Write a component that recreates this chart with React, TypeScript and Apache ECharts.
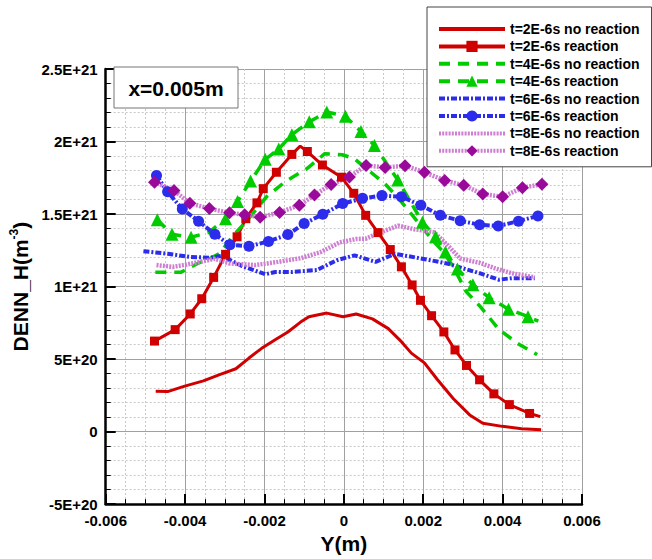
import React, { useEffect, useRef } from "react";
import * as echarts from "echarts";

// X in units of 1E-3 m, values in units of 1E+20 m^-3
const red2NoX = [-4.74, -4.44, -4.03, -3.54, -3.13, -2.72, -2.39, -2.07, -1.74, -1.41, -1.09, -0.88, -0.43, -0.02, 0.31, 0.72, 1.12, 1.45, 1.70, 2.03, 2.35, 2.76, 3.17, 3.50, 3.99, 4.48, 4.97];
const red2NoY = [2.78, 2.76, 3.12, 3.50, 3.93, 4.33, 5.07, 5.74, 6.31, 6.87, 7.55, 7.92, 8.17, 7.92, 8.11, 7.77, 7.10, 6.20, 5.41, 4.74, 3.61, 2.26, 1.15, 0.58, 0.36, 0.20, 0.13];

const red2RxX = [-4.77, -4.25, -3.87, -3.58, -3.28, -2.98, -2.69, -2.47, -2.19, -2.03, -1.70, -1.31, -1.10, -0.92, -0.54, -0.06, 0.25, 0.55, 0.86, 1.17, 1.45, 1.72, 1.93, 2.21, 2.52, 2.80, 3.09, 3.42, 3.78, 4.17, 4.68, 4.95];
const red2RxY = [6.24, 7.03, 8.11, 9.16, 10.63, 12.22, 13.43, 14.68, 15.77, 16.75, 17.88, 19.11, 19.68, 19.31, 18.38, 17.54, 16.43, 14.91, 13.72, 12.55, 11.36, 10.11, 9.05, 7.99, 6.87, 5.63, 4.56, 3.57, 2.60, 1.86, 1.25, 1.03];
const red2RxPlain = [12, 31];

const green4NoX = [-4.75, -4.11, -3.67, -3.37, -3.13, -2.79, -2.39, -1.95, -1.46, -0.92, -0.48, -0.04, 0.26, 0.68, 1.04, 1.34, 1.63, 1.98, 2.27, 2.52, 2.76, 3.08, 3.45, 3.91, 4.41, 4.87];
const green4NoY = [10.98, 10.98, 11.61, 11.93, 12.29, 13.50, 14.71, 16.19, 17.27, 18.15, 19.16, 19.09, 18.82, 17.88, 17.07, 16.19, 15.25, 14.04, 13.09, 12.35, 11.34, 9.66, 8.58, 7.03, 6.02, 5.31];

const green4RxX = [-4.70, -4.33, -3.85, -3.40, -2.98, -2.68, -2.35, -1.98, -1.64, -1.31, -0.87, -0.43, 0.04, 0.43, 0.77, 1.36, 1.98, 2.31, 2.56, 2.86, 3.25, 3.66, 4.15, 4.64, 4.90];
const green4RxY = [14.61, 13.60, 13.40, 13.73, 14.68, 15.86, 17.27, 18.77, 19.49, 20.47, 21.36, 22.04, 21.75, 20.69, 19.73, 17.34, 14.44, 13.43, 12.39, 11.21, 10.13, 9.23, 8.44, 7.92, 7.61];
const green4RxPlain = [3, 24];

const blue6NoX = [-5.05, -4.44, -3.87, -3.37, -3.08, -2.93, -2.56, -1.98, -1.73, -1.33, -0.68, -0.18, 0.27, 0.80, 1.29, 2.19, 2.60, 3.01, 3.42, 3.91, 4.23, 4.81];
const blue6NoY = [12.44, 12.26, 12.04, 11.99, 12.12, 11.91, 11.41, 10.85, 11.00, 11.00, 11.14, 11.81, 12.15, 11.70, 12.26, 11.81, 11.59, 11.25, 10.92, 10.47, 10.58, 10.58];

const blue6RxX = [-4.72, -4.44, -4.07, -3.66, -3.25, -2.87, -2.39, -1.90, -1.41, -1.00, -0.53, -0.03, 0.47, 0.96, 1.45, 1.94, 2.43, 2.93, 3.42, 3.89, 4.40, 4.89];
const blue6RxY = [17.65, 16.53, 15.34, 14.51, 13.60, 12.88, 12.78, 13.11, 13.59, 14.34, 14.98, 15.72, 16.08, 16.27, 16.19, 15.60, 14.91, 14.54, 14.26, 14.17, 14.51, 14.87];

const pink8NoX = [-4.72, -4.31, -4.03, -3.54, -3.25, -2.88, -2.23, -1.66, -1.09, -0.59, -0.10, 0.31, 0.55, 0.96, 1.37, 1.78, 2.27, 2.60, 2.93, 3.42, 3.82, 4.23, 4.81];
const pink8NoY = [11.48, 11.36, 11.48, 11.75, 11.91, 11.59, 11.48, 11.70, 11.95, 12.37, 13.05, 13.28, 13.30, 13.77, 14.20, 13.95, 13.75, 12.89, 11.93, 11.64, 11.25, 10.92, 10.63];

const pink8RxX = [-4.77, -4.28, -3.88, -3.39, -2.88, -2.50, -2.11, -1.62, -1.12, -0.74, -0.32, 0.14, 0.56, 1.04, 1.54, 2.03, 2.54, 3.02, 3.50, 4.00, 4.50, 4.99];
const pink8RxY = [17.20, 16.62, 15.74, 15.38, 15.08, 14.95, 14.78, 15.11, 15.61, 16.31, 17.04, 17.56, 18.35, 18.21, 18.33, 17.88, 17.32, 16.98, 16.38, 16.19, 16.82, 17.05];

const seriesNames = [
  "t=2E-6s no reaction",
  "t=2E-6s reaction",
  "t=4E-6s no reaction",
  "t=4E-6s reaction",
  "t=6E-6s no reaction",
  "t=6E-6s reaction",
  "t=8E-6s no reaction",
  "t=8E-6s reaction",
];

const xTickMin = -6;
const xTickMax = 6;
const xTickStep = 2;
const yTickMin = -5;
const yTickMax = 25;
const yTickStep = 5;

const FONT = 'Arial, "Liberation Sans", Helvetica, sans-serif';

function pts(xs: number[], ys: number[], plain: number[] = []) {
  return xs.map((x, i) =>
    plain.indexOf(i) >= 0 ? { value: [x, ys[i]], symbol: "none" } : [x, ys[i]]
  );
}

const RED = "#d10000";
const GREEN = "#00cc00";
const BLUE = "#2c2cec";
const PINK = "#cf7fd2";
const PURPLE = "#9a0a9a";

export default function App() {
  const ref = useRef<HTMLDivElement>(null);
  useEffect(() => {
    document.body.style.margin = "0";
    const chart = echarts.init(ref.current as HTMLDivElement, null, { renderer: "svg" });
    const gridLine = { show: true, lineStyle: { color: "#a0a0a0", width: 1 } };
    const minorLine = { show: true, lineStyle: { color: "#c8c8c8", width: 1, type: [2, 2] } };
    const labelStyle = { color: "#000", fontFamily: FONT, fontWeight: "bold", fontSize: 15 };
    const legendData = seriesNames.map((name, i) =>
      i % 2 === 0
        ? { name, itemStyle: { color: "rgba(0,0,0,0)", opacity: 0, borderWidth: 0 } }
        : { name }
    );
    const option: any = {
      animation: false,
      backgroundColor: "#fff",
      grid: { left: 93, right: 70, top: 69, bottom: 46, containLabel: false },
      xAxis: {
        type: "value",
        min: xTickMin,
        max: xTickMax,
        interval: xTickStep,
        name: "Y(m)",
        nameLocation: "middle",
        nameGap: 22,
        nameTextStyle: { color: "#000", fontFamily: FONT, fontWeight: "bold", fontSize: 21 },
        axisLine: { onZero: false, lineStyle: { color: "#000", width: 2.5 } },
        axisTick: { inside: true, length: 10, lineStyle: { color: "#000", width: 2 } },
        minorTick: { show: true, splitNumber: 4, length: 5, lineStyle: { color: "#000", width: 1 } },
        splitLine: gridLine,
        minorSplitLine: minorLine,
        axisLabel: {
          ...labelStyle,
          margin: 9,
          formatter: (v: number) => (v === 0 ? "0" : String(+(v / 1000).toFixed(4))),
        },
      },
      yAxis: {
        type: "value",
        min: yTickMin,
        max: yTickMax,
        interval: yTickStep,
        name: "{a|DENN_H(m}{b|-3}{a|)}",
        nameLocation: "middle",
        nameGap: 60,
        nameTextStyle: {
          rich: {
            a: { color: "#000", fontFamily: FONT, fontWeight: "bold", fontSize: 21 },
            b: { color: "#000", fontFamily: FONT, fontWeight: "bold", fontSize: 12, padding: [0, 0, 12, 0] },
          },
        },
        axisLine: { onZero: false, lineStyle: { color: "#000", width: 2.5 } },
        axisTick: { inside: true, length: 10, lineStyle: { color: "#000", width: 2 } },
        minorTick: { show: true, splitNumber: 5, length: 5, lineStyle: { color: "#000", width: 1 } },
        splitLine: gridLine,
        minorSplitLine: minorLine,
        axisLabel: {
          ...labelStyle,
          margin: 8,
          formatter: (v: number) =>
            v === 0 ? "0" : (v * 1e20).toExponential().toUpperCase(),
        },
      },
      legend: {
        orient: "vertical",
        left: 427,
        top: 7,
        padding: [15, 12, 9, 10],
        itemWidth: 66,
        itemHeight: 14,
        itemGap: 3.4,
        itemTextGap: 8,
        backgroundColor: "#fff",
        borderColor: "#444",
        borderWidth: 1,
        lineStyle: { width: 4 },
        textStyle: { color: "#000", fontFamily: FONT, fontWeight: "bold", fontSize: 14 },
        data: legendData,
      },
      graphic: [
        {
          type: "rect",
          z: 10,
          shape: { x: 114, y: 67, width: 124, height: 41 },
          style: { fill: "#fff", stroke: "#777", lineWidth: 1 },
        },
        {
          type: "text",
          z: 11,
          x: 176,
          y: 88,
          style: {
            text: "x=0.005m",
            fill: "#000",
            fontFamily: FONT,
            fontWeight: "bold",
            fontSize: 21,
            align: "center",
            verticalAlign: "middle",
          },
        },
      ],
      series: [
        {
          name: seriesNames[0],
          type: "line",
          data: pts(red2NoX, red2NoY),
          symbol: "none",
          lineStyle: { color: RED, width: 3 },
          itemStyle: { color: RED },
        },
        {
          name: seriesNames[1],
          type: "line",
          data: pts(red2RxX, red2RxY, red2RxPlain),
          symbol: "rect",
          symbolSize: 9,
          lineStyle: { color: RED, width: 3 },
          itemStyle: { color: RED },
        },
        {
          name: seriesNames[2],
          type: "line",
          data: pts(green4NoX, green4NoY),
          symbol: "none",
          lineStyle: { color: GREEN, width: 3.5, type: [11, 8] },
          itemStyle: { color: GREEN },
        },
        {
          name: seriesNames[3],
          type: "line",
          data: pts(green4RxX, green4RxY, green4RxPlain),
          symbol: "triangle",
          symbolSize: 13,
          lineStyle: { color: GREEN, width: 3.5, type: [11, 8] },
          itemStyle: { color: GREEN },
        },
        {
          name: seriesNames[4],
          type: "line",
          data: pts(blue6NoX, blue6NoY),
          symbol: "none",
          lineStyle: { color: BLUE, width: 4, type: [6, 2, 2, 2] },
          itemStyle: { color: BLUE },
        },
        {
          name: seriesNames[5],
          type: "line",
          data: pts(blue6RxX, blue6RxY),
          symbol: "circle",
          symbolSize: 11,
          lineStyle: { color: BLUE, width: 4, type: [6, 2, 2, 2] },
          itemStyle: { color: BLUE },
        },
        {
          name: seriesNames[6],
          type: "line",
          data: pts(pink8NoX, pink8NoY),
          symbol: "none",
          lineStyle: { color: PINK, width: 4.5, type: [2, 1.2] },
          itemStyle: { color: PINK },
        },
        {
          name: seriesNames[7],
          type: "line",
          data: pts(pink8RxX, pink8RxY),
          symbol: "diamond",
          symbolSize: 13,
          lineStyle: { color: PINK, width: 4.5, type: [2, 1.2] },
          itemStyle: { color: PURPLE },
        },
      ],
    };
    chart.setOption(option);
    return () => chart.dispose();
  }, []);
  return <div ref={ref} style={{ width: 652, height: 559 }} />;
}
